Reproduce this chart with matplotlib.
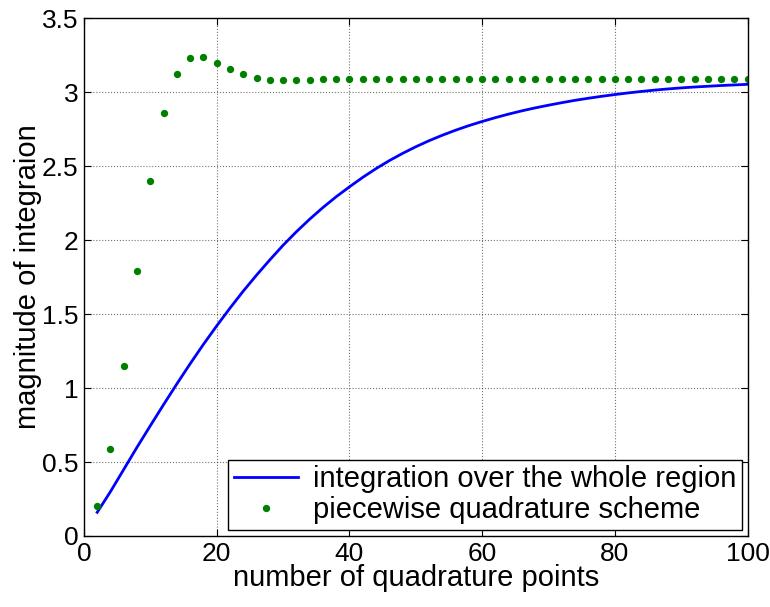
import matplotlib
matplotlib.use("Agg")
import matplotlib.pyplot as plt
from matplotlib import font_manager as fm

# prefer a narrow Helvetica-like face if one is installed
names = {f.name for f in fm.fontManager.ttflist}
if "Liberation Sans Narrow" in names:
    plt.rcParams["font.family"] = ["Liberation Sans Narrow", "DejaVu Sans"]
    narrow = True
else:
    plt.rcParams["font.family"] = ["Liberation Sans", "DejaVu Sans"]
    narrow = False

# quadrature points
n_pts = list(range(2, 101, 2))

# integration over the whole region
whole = [0.16, 0.30, 0.45, 0.60, 0.745, 0.888, 1.028, 1.164, 1.295, 1.42,
         1.54, 1.655, 1.763, 1.866, 1.965, 2.056, 2.141, 2.22, 2.293, 2.36,
         2.424, 2.483, 2.537, 2.586, 2.631, 2.672, 2.709, 2.743, 2.774, 2.802,
         2.828, 2.852, 2.874, 2.894, 2.912, 2.929, 2.945, 2.959, 2.972, 2.984,
         2.995, 3.005, 3.014, 3.022, 3.029, 3.035, 3.04, 3.045, 3.049, 3.053]

# piecewise quadrature scheme
piecewise = [0.20, 0.59, 1.15, 1.79, 2.40, 2.86, 3.125, 3.23, 3.235, 3.195,
             3.155, 3.12, 3.098, 3.084, 3.082, 3.082, 3.085] + [3.087] * 33

# font sizes: bigger when the narrow face is there, to match the reference
tick_fs = 20 if narrow else 19
lab_fs = 23 if narrow else 21
leg_fs = 23 if narrow else 21

fig = plt.figure(figsize=(7.7, 6.07), dpi=100)
ax = fig.add_axes([0.109, 0.117, 0.862, 0.853])

ax.plot(n_pts, whole, "-", color="blue", linewidth=2, label="integration over the whole region")
ax.plot(n_pts, piecewise, ".", color="green", markersize=8.5, label="piecewise quadrature scheme")

ax.set_xlim(0, 100)
ax.set_ylim(0, 3.5)
ax.set_xticks([0, 20, 40, 60, 80, 100])
ax.set_yticks([0, 0.5, 1, 1.5, 2, 2.5, 3, 3.5])
ax.set_yticklabels(["0", "0.5", "1", "1.5", "2", "2.5", "3", "3.5"])
ax.tick_params(direction="in", top=True, right=True, labelsize=tick_fs, length=5, pad=4)
ax.grid(True, linestyle=":", color="black", linewidth=0.8, alpha=0.55)
for s in ax.spines.values():
    s.set_linewidth(1)

ax.set_xlabel("number of quadrature points", fontsize=lab_fs, labelpad=-1)
ax.set_ylabel("magnitude of integraion", fontsize=lab_fs, labelpad=0)

leg = ax.legend(loc="lower right", fontsize=leg_fs, fancybox=False, framealpha=1,
                edgecolor="black", borderaxespad=0.2, handlelength=2.2,
                handletextpad=0.5, borderpad=0.2, labelspacing=0.1)
leg.get_frame().set_linewidth(1)

fig.savefig("out.png", dpi=100)
